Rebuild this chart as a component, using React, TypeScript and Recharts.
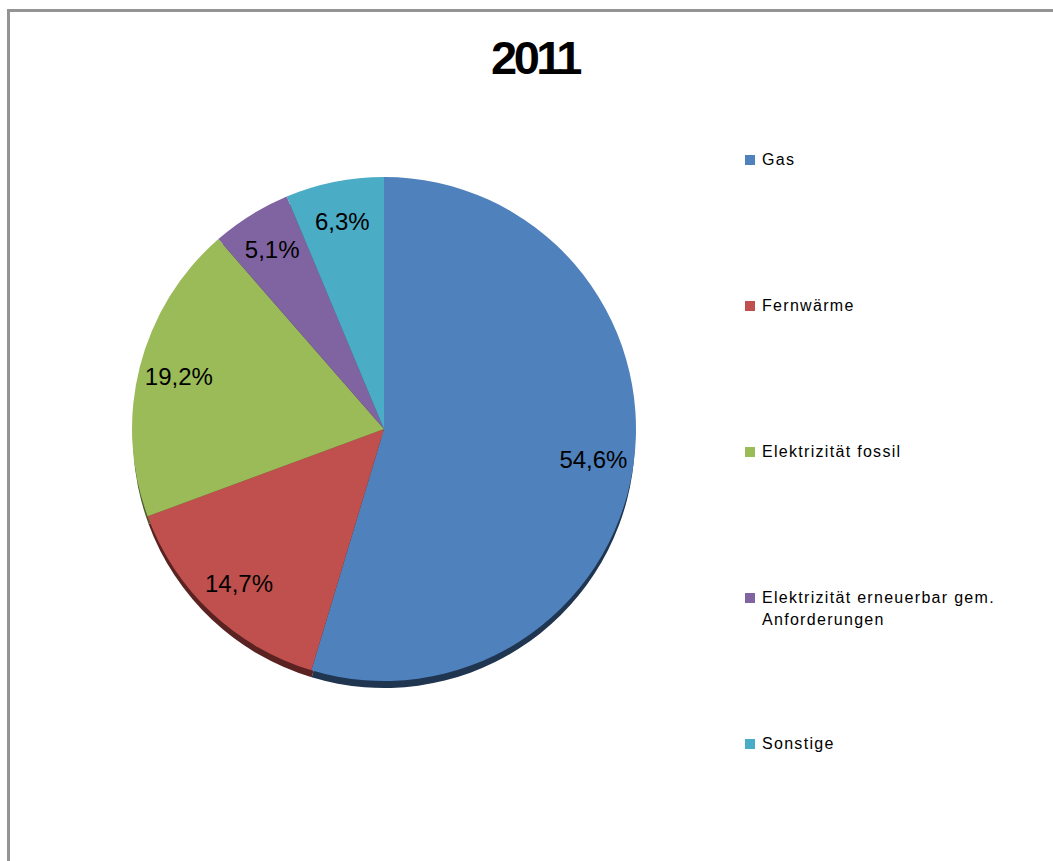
import React from "react";
import { PieChart, Pie, Cell, Legend } from "recharts";

const categories = [
  "Gas",
  "Fernwärme",
  "Elektrizität fossil",
  "Elektrizität erneuerbar gem. Anforderungen",
  "Sonstige",
];
const shares = [54.6, 14.7, 19.2, 5.1, 6.3];
const colors = ["#4F81BD", "#C0504D", "#9BBB59", "#8064A2", "#4BACC6"];
const shadowColors = ["#1F3550", "#5A2321", "#4A5A2A", "#3E3050", "#245A66"];
const chartTitle = "2011";

const data = categories.map((name, i) => ({ name, value: shares[i] }));

const FONT = "'Liberation Sans', Arial, sans-serif";
const RAD = Math.PI / 180;

function renderLabel(props: any) {
  const { cx, cy, midAngle, outerRadius, value } = props;
  const r = outerRadius * 0.84;
  const x = cx + r * Math.cos(-midAngle * RAD);
  const y = cy + r * Math.sin(-midAngle * RAD);
  return (
    <text
      x={x}
      y={y}
      fill="#000"
      fontSize={24}
      fontFamily={FONT}
      textAnchor="middle"
      dominantBaseline="central"
    >
      {value.toFixed(1).replace(".", ",") + "%"}
    </text>
  );
}

// legend drawn from our own lists so the shadow pie does not show up in it
function LegendContent() {
  return (
    <div style={{ position: "relative", width: 290, height: 620 }}>
      {categories.map((name, i) => (
        <div
          key={name}
          style={{
            position: "absolute",
            left: 0,
            top: i * 146,
            display: "flex",
            alignItems: "flex-start",
          }}
        >
          <div
            style={{
              width: 10,
              height: 10,
              background: colors[i],
              marginTop: 5,
              marginRight: 7,
              flexShrink: 0,
            }}
          />
          <div
            style={{
              fontFamily: FONT,
              fontSize: 16,
              letterSpacing: 1.3,
              lineHeight: "22px",
              color: "#000",
              width: 262,
              marginTop: -1,
            }}
          >
            {name}
          </div>
        </div>
      ))}
    </div>
  );
}

export default function App() {
  return (
    <div
      style={{
        position: "fixed",
        left: 0,
        top: 0,
        width: 1053,
        height: 861,
        overflow: "hidden",
        background: "#fff",
      }}
    >
      <div
        style={{
          position: "absolute",
          left: 7,
          top: 9,
          width: 1100,
          height: 900,
          border: "3px solid #949494",
          boxSizing: "border-box",
        }}
      />
      <div
        style={{
          position: "absolute",
          left: 0,
          width: 1070,
          top: 31,
          textAlign: "center",
          fontFamily: FONT,
          fontWeight: "bold",
          fontSize: 47,
          letterSpacing: -3.5,
          lineHeight: "54px",
          color: "#000",
        }}
      >
        {chartTitle}
      </div>
      <div style={{ position: "absolute", left: 0, top: 0 }}>
        <PieChart width={1053} height={861} margin={{ top: 0, right: 0, bottom: 0, left: 0 }}>
          <Pie
            data={data}
            dataKey="value"
            nameKey="name"
            cx={384}
            cy={437}
            outerRadius={251}
            startAngle={90}
            endAngle={-270}
            stroke="none"
            legendType="none"
            isAnimationActive={false}
          >
            {data.map((d, i) => (
              <Cell key={"s" + d.name} fill={shadowColors[i]} />
            ))}
          </Pie>
          <Pie
            data={data}
            dataKey="value"
            nameKey="name"
            cx={384}
            cy={429}
            outerRadius={252}
            startAngle={90}
            endAngle={-270}
            stroke="none"
            label={renderLabel}
            labelLine={false}
            isAnimationActive={false}
          >
            {data.map((d, i) => (
              <Cell key={d.name} fill={colors[i]} />
            ))}
          </Pie>
          <Legend
            content={LegendContent}
            wrapperStyle={{ position: "absolute", left: 745, top: 150, width: 300 }}
          />
        </PieChart>
      </div>
    </div>
  );
}
